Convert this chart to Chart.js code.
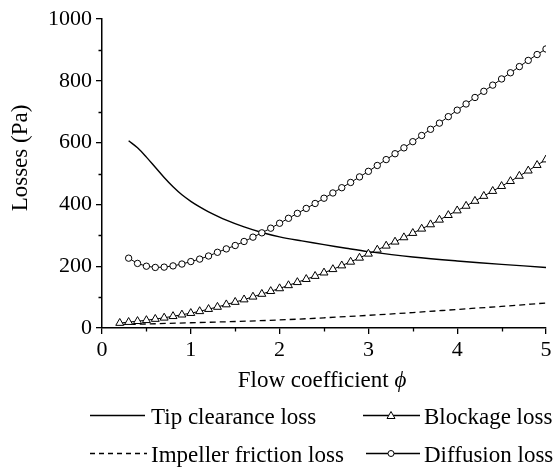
<!DOCTYPE html>
<html><head><meta charset="utf-8">
<script src="https://cdn.jsdelivr.net/npm/chart.js@4.4.0/dist/chart.umd.min.js"></script>
<style>html,body{margin:0;padding:0;background:#fff;}canvas{display:block;}</style>
</head><body>
<canvas id="c" width="557" height="469"></canvas>
<script>
// ---- data ----
const phi = [0.2,0.3,0.4,0.5,0.6,0.7,0.8,0.9,1.0,
  1.1,1.2,1.3,1.4,1.5,1.6,1.7,1.8,1.9,2.0,
  2.1,2.2,2.3,2.4,2.5,2.6,2.7,2.8,2.9,3.0,
  3.1,3.2,3.3,3.4,3.5,3.6,3.7,3.8,3.9,4.0,
  4.1,4.2,4.3,4.4,4.5,4.6,4.7,4.8,4.9,5.0];
const blockageLoss = [16,19,22,25,29,33,38,43,48,
  54,61,68,76,84,92,101,110,119,128,
  138,148,158,168,179,190,202,214,227,240,
  253,266,279,293,307,321,335,350,365,380,
  395,411,427,443,459,475,492,509,527,545];
const diffusionLoss = [null,226,209,200,196,197,201,207,215,
  223,233,245,256,267,280,294,308,323,339,
  355,371,387,403,420,437,454,471,489,507,
  526,545,564,583,603,623,643,663,684,705,
  725,746,766,786,806,826,846,866,885,903];
const tipPhi = [0.3,0.4,0.5,0.6,0.7,0.8,0.9,1.0,1.1,1.2,1.4,1.6,1.8,2.0,2.25,2.5,2.75,3.0,3.5,4.0,4.5,5.0];
const tipClearanceLoss = [606,583,553,520,487,457,431,410,392,376,349,327,309,295,282,270,258,247,230,217,206,196];
const frictionPhi = [0.2,0.5,1.0,1.5,2.0,2.5,3.0,3.5,4.0,4.5,5.0];
const impellerFrictionLoss = [11,13,17,21,26,33,41,50,60,70,81];

const xTicks = [0,1,2,3,4,5];
const yTicks = [0,200,400,600,800,1000];
const xMinorTicks = [0.5,1.5,2.5,3.5,4.5];
const yMinorTicks = [100,300,500,700,900];
const seriesLabels = ['Tip clearance loss','Blockage loss','Impeller friction loss','Diffusion loss'];
const xTitleText = 'Flow coefficient ';
const xTitleSymbol = '\u03D5';
const yTitleText = 'Losses (Pa)';

const FONT = "'Liberation Serif','Times New Roman',serif";

const pts = (xs, ys) => xs.map((x, i) => ({x: x, y: ys[i]}));

const extras = {
  id: 'extras',
  afterDraw(chart) {
    const ctx = chart.ctx;
    const xs = chart.scales.x, ys = chart.scales.y;
    const a = chart.chartArea;
    ctx.save();
    ctx.strokeStyle = '#000';
    ctx.lineWidth = 1.3;
    // minor ticks
    ctx.beginPath();
    xMinorTicks.forEach(v => { const p = Math.round(xs.getPixelForValue(v)) + 0.5; ctx.moveTo(p, a.bottom); ctx.lineTo(p, a.bottom + 3.5); });
    yMinorTicks.forEach(v => { const p = Math.round(ys.getPixelForValue(v)) + 0.5; ctx.moveTo(a.left, p); ctx.lineTo(a.left - 3.5, p); });
    ctx.stroke();

    ctx.fillStyle = '#000';
    // x title
    ctx.font = '23px ' + FONT;
    const w1 = ctx.measureText(xTitleText).width;
    ctx.font = 'italic 23px ' + FONT;
    const w2 = ctx.measureText(xTitleSymbol).width;
    const cx = (a.left + a.right) / 2 - 2;
    let sx = cx - (w1 + w2) / 2;
    ctx.textBaseline = 'alphabetic';
    ctx.textAlign = 'left';
    ctx.font = '23px ' + FONT;
    ctx.fillText(xTitleText, sx, 387);
    ctx.font = 'italic 23px ' + FONT;
    ctx.fillText(xTitleSymbol, sx + w1, 387);

    // y title
    ctx.save();
    ctx.translate(21, 158);
    ctx.rotate(-Math.PI / 2);
    ctx.font = '23px ' + FONT;
    ctx.textAlign = 'center';
    ctx.textBaseline = 'middle';
    ctx.fillText(yTitleText, 0, 0);
    ctx.restore();

    // legend
    const r1 = 415.5, r2 = 453.5;
    ctx.lineWidth = 1.3;
    ctx.beginPath(); ctx.moveTo(90, r1); ctx.lineTo(145, r1); ctx.stroke();
    ctx.setLineDash([5, 4]);
    ctx.beginPath(); ctx.moveTo(90, r2); ctx.lineTo(147, r2); ctx.stroke();
    ctx.setLineDash([]);
    // blockage sample
    ctx.lineWidth = 1.3;
    ctx.beginPath(); ctx.moveTo(363, r1); ctx.lineTo(420, r1); ctx.stroke();
    ctx.fillStyle = '#fff';
    ctx.beginPath();
    ctx.moveTo(391, r1 - 4); ctx.lineTo(395, r1 + 3); ctx.lineTo(387, r1 + 3); ctx.closePath();
    ctx.fill(); ctx.lineWidth = 1; ctx.stroke();
    // diffusion sample
    ctx.lineWidth = 1.3;
    ctx.beginPath(); ctx.moveTo(366, r2); ctx.lineTo(420, r2); ctx.stroke();
    ctx.beginPath(); ctx.arc(391, r2, 3, 0, Math.PI * 2);
    ctx.fill(); ctx.lineWidth = 1; ctx.stroke();

    ctx.fillStyle = '#000';
    ctx.font = '23px ' + FONT;
    ctx.textAlign = 'left';
    ctx.textBaseline = 'alphabetic';
    ctx.fillText(seriesLabels[0], 151, r1 + 8);
    ctx.fillText(seriesLabels[1], 424, r1 + 8);
    ctx.fillText(seriesLabels[2], 151, r2 + 8);
    ctx.fillText(seriesLabels[3], 424, r2 + 8);
    ctx.restore();
  }
};

new Chart(document.getElementById('c'), {
  type: 'line',
  data: {
    datasets: [
      {
        label: seriesLabels[3], data: pts(phi, diffusionLoss),
        borderColor: '#000', borderWidth: 1, pointStyle: 'circle', pointRadius: 3.2,
        pointBorderWidth: 1, pointBorderColor: '#000', pointBackgroundColor: '#fff', spanGaps: false
      },
      {
        label: seriesLabels[1], data: pts(phi, blockageLoss),
        borderColor: '#000', borderWidth: 1, pointStyle: 'triangle', pointRadius: 4.6,
        pointBorderWidth: 1, pointBorderColor: '#000', pointBackgroundColor: '#fff'
      },
      {
        label: seriesLabels[0], data: pts(tipPhi, tipClearanceLoss),
        borderColor: '#000', borderWidth: 1.4, pointRadius: 0, tension: 0.35
      },
      {
        label: seriesLabels[2], data: pts(frictionPhi, impellerFrictionLoss),
        borderColor: '#000', borderWidth: 1.3, borderDash: [6, 4], pointRadius: 0, cubicInterpolationMode: 'monotone'
      }
    ]
  },
  options: {
    responsive: false, animation: false, devicePixelRatio: 1,
    layout: { padding: { left: 0, right: 11, top: 19, bottom: 0 } },
    plugins: { legend: { display: false }, tooltip: { enabled: false } },
    scales: {
      x: {
        type: 'linear', min: 0, max: 5,
        afterBuildTicks: s => { s.ticks = xTicks.map(v => ({ value: v })); },
        afterFit: s => { s.height = 141; },
        grid: { drawOnChartArea: false, drawTicks: true, tickLength: 6, color: '#000', lineWidth: 1.3 },
        border: { display: true, color: '#000', width: 1.5 },
        ticks: { color: '#000', padding: 3, maxRotation: 0, font: { family: FONT, size: 22 }, callback: v => String(v) }
      },
      y: {
        type: 'linear', min: 0, max: 1000,
        afterBuildTicks: s => { s.ticks = yTicks.map(v => ({ value: v })); },
        afterFit: s => { s.width = 102; },
        grid: { drawOnChartArea: false, drawTicks: true, tickLength: 6, color: '#000', lineWidth: 1.3 },
        border: { display: true, color: '#000', width: 1.5 },
        ticks: { color: '#000', padding: 4, font: { family: FONT, size: 22 }, callback: v => String(v) }
      }
    }
  },
  plugins: [extras]
});
</script>
</body></html>
